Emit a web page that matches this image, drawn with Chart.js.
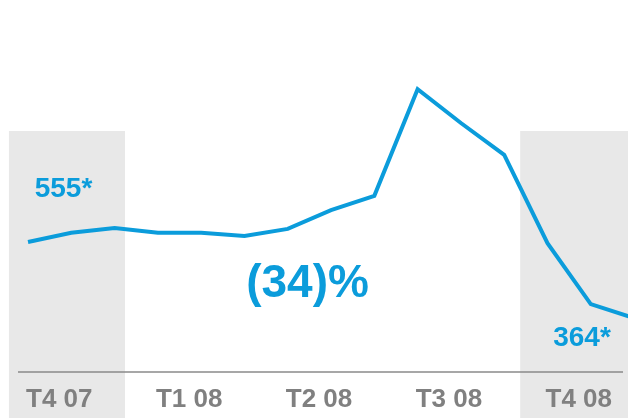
<!DOCTYPE html>
<html>
<head>
<meta charset="utf-8">
<script src="https://cdn.jsdelivr.net/npm/chart.js@4/dist/chart.umd.min.js"></script>
<style>
  html, body { margin: 0; padding: 0; background: #fff; }
  #wrap { width: 628px; height: 418px; position: relative; }
</style>
</head>
<body>
<div id="wrap"><canvas id="chart"></canvas></div>
<script>
// monthly values, T4 07 -> T4 08 (index 0..14)
const months = [0, 1, 2, 3, 4, 5, 6, 7, 8, 9, 10, 11, 12, 13, 14];
const values = [555, 578, 590, 578, 578, 570, 588, 635, 671, 939, 854, 774, 552, 399, 364];
const quarterLabels = ['T4 07', 'T1 08', 'T2 08', 'T3 08', 'T4 08'];
const quarterTicks = [1, 4, 7, 10, 13];
const startLabel = '555*';
const endLabel = '364*';
const changeLabel = '(34)%';

const blue = '#0b9cdb';
const grey = '#808080';

// grey bands behind first and last quarter
const shadeBands = [[-0.44, 2.24], [11.37, 15]];

const decor = {
  id: 'decor',
  beforeDraw(chart) {
    const { ctx, chartArea, scales } = chart;
    const top = scales.y.getPixelForValue(834);
    ctx.save();
    ctx.fillStyle = '#e8e8e8';
    shadeBands.forEach(([a, b]) => {
      const x1 = scales.x.getPixelForValue(a);
      const x2 = scales.x.getPixelForValue(b);
      ctx.fillRect(x1, top, x2 - x1, chart.height - top);
    });
    ctx.strokeStyle = '#8a8a8a';
    ctx.lineWidth = 1.5;
    ctx.beginPath();
    ctx.moveTo(18, chartArea.bottom);
    ctx.lineTo(623, chartArea.bottom);
    ctx.stroke();
    ctx.restore();
  },
  afterDatasetsDraw(chart) {
    const { ctx } = chart;
    ctx.save();
    ctx.fillStyle = blue;
    ctx.textAlign = 'center';
    ctx.textBaseline = 'middle';
    ctx.font = 'bold 28px "Liberation Sans", Arial, sans-serif';
    ctx.fillText(startLabel, 63.5, 189);
    ctx.fillText(endLabel, 582, 338);
    ctx.font = 'bold 46px "Liberation Sans", Arial, sans-serif';
    ctx.fillText(changeLabel, 307.5, 284);
    ctx.restore();
  }
};

new Chart(document.getElementById('chart'), {
  type: 'line',
  data: {
    datasets: [{
      data: months.map((m, i) => ({ x: m, y: values[i] })),
      borderColor: blue,
      borderWidth: 4,
      pointRadius: 0,
      tension: 0,
      fill: false
    }]
  },
  options: {
    responsive: true,
    maintainAspectRatio: false,
    animation: false,
    layout: { padding: 0 },
    plugins: { legend: { display: false }, tooltip: { enabled: false } },
    scales: {
      x: {
        type: 'linear',
        min: -0.647,
        max: 13.86,
        afterBuildTicks: (axis) => { axis.ticks = quarterTicks.map(v => ({ value: v })); },
        afterFit: (axis) => {
          axis.height = 46;
          axis.paddingLeft = 0;
          axis.paddingRight = 0;
        },
        grid: { display: false, drawTicks: false },
        border: { display: false },
        ticks: {
          autoSkip: false,
          maxRotation: 0,
          labelOffset: -12,
          padding: 12,
          color: grey,
          font: { family: '"Liberation Sans", Arial, sans-serif', size: 26, weight: 'bold' },
          callback: (v) => quarterLabels[quarterTicks.indexOf(v)]
        }
      },
      y: {
        display: false,
        min: 228.3,
        max: 1163.1
      }
    }
  },
  plugins: [decor]
});
</script>
</body>
</html>
